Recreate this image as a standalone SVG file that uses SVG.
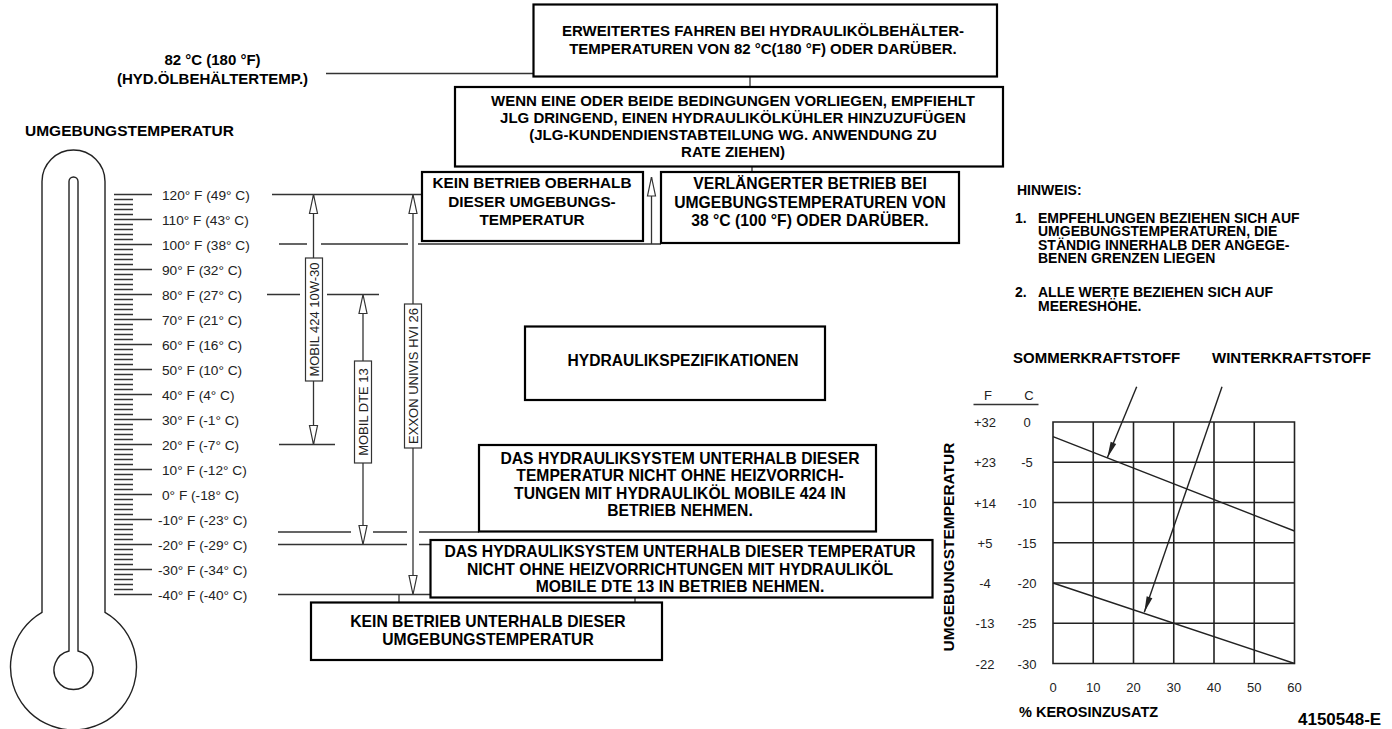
<svg xmlns="http://www.w3.org/2000/svg" width="1392" height="729" viewBox="0 0 1392 729">
<defs>
<style>
.b{fill:#fff;stroke:#000;stroke-width:2.2}
.lb{fill:#fff;stroke:#333;stroke-width:1.2}
.t{font-family:"Liberation Sans",Arial,sans-serif;font-weight:bold;font-size:15px;fill:#000;text-anchor:middle}
.t2{font-size:15.7px}
.tl{font-family:"Liberation Sans",Arial,sans-serif;font-weight:bold;font-size:15px;fill:#000}
.nt{font-size:14px}
.r{font-family:"Liberation Sans",Arial,sans-serif;font-size:13.7px;fill:#222}
.rv{font-family:"Liberation Sans",Arial,sans-serif;font-size:13px;fill:#222;text-anchor:middle}
.n{font-family:"Liberation Sans",Arial,sans-serif;font-size:13px;fill:#222;text-anchor:middle}
.ln{fill:none;stroke:#333;stroke-width:1.3}
.th{fill:none;stroke:#222;stroke-width:1.4}
.g{fill:none;stroke:#222;stroke-width:1.6}
</style>
<marker id="oa" markerUnits="userSpaceOnUse" markerWidth="24" markerHeight="12" viewBox="-21 -6 24 12" refX="0" refY="0" orient="auto-start-reverse"><path d="M0,0 L-19,-4 L-19,4 Z" fill="#fff" stroke="#333" stroke-width="1.2"/></marker>
<marker id="fa" markerUnits="userSpaceOnUse" markerWidth="18" markerHeight="8" viewBox="-17 -4 18 8" refX="0" refY="0" orient="auto"><path d="M0,0 L-16,-3 L-16,3 Z" fill="#222"/></marker>
</defs>
<rect width="1392" height="729" fill="#fff"/>

<g id="thermometer">
<path class="th" d="M42,612.4 L42,181.5 A31.5,31.5 0 0 1 105,181.5 L105,612.4 A63,63 0 1 1 42,612.4 Z"/>
<path class="th" d="M69,651 L69,181.5 A4.5,4.5 0 0 1 78,181.5 L78,651 A19.5,19.5 0 1 1 69,651 Z"/>
<text class="tl" x="25" y="136" style="font-size:15.5px">UMGEBUNGSTEMPERATUR</text>
</g>

<g id="scale">
<path class="ln" d="M114 194.5h38M114 219.5h38M114 244.5h38M114 269.5h38M114 294.5h38M114 319.5h38M114 344.5h38M114 369.5h38M114 394.5h38M114 419.5h38M114 444.5h38M114 469.5h38M114 494.5h38M114 519.5h38M114 544.5h38M114 569.5h38M114 594.5h38"/>
<path class="ln" d="M114 199.5h19M114 204.5h19M114 209.5h19M114 214.5h19M114 224.5h19M114 229.5h19M114 234.5h19M114 239.5h19M114 249.5h19M114 254.5h19M114 259.5h19M114 264.5h19M114 274.5h19M114 279.5h19M114 284.5h19M114 289.5h19M114 299.5h19M114 304.5h19M114 309.5h19M114 314.5h19M114 324.5h19M114 329.5h19M114 334.5h19M114 339.5h19M114 349.5h19M114 354.5h19M114 359.5h19M114 364.5h19M114 374.5h19M114 379.5h19M114 384.5h19M114 389.5h19M114 399.5h19M114 404.5h19M114 409.5h19M114 414.5h19M114 424.5h19M114 429.5h19M114 434.5h19M114 439.5h19M114 449.5h19M114 454.5h19M114 459.5h19M114 464.5h19M114 474.5h19M114 479.5h19M114 484.5h19M114 489.5h19M114 499.5h19M114 504.5h19M114 509.5h19M114 514.5h19M114 524.5h19M114 529.5h19M114 534.5h19M114 539.5h19M114 549.5h19M114 554.5h19M114 559.5h19M114 564.5h19M114 574.5h19M114 579.5h19M114 584.5h19M114 589.5h19"/>
<text class="r" x="162" y="199.5">120° F (49° C)</text>
<text class="r" x="162" y="224.5">110° F (43° C)</text>
<text class="r" x="162" y="249.5">100° F (38° C)</text>
<text class="r" x="162" y="274.5">90° F (32° C)</text>
<text class="r" x="162" y="299.5">80° F (27° C)</text>
<text class="r" x="162" y="324.5">70° F (21° C)</text>
<text class="r" x="162" y="349.5">60° F (16° C)</text>
<text class="r" x="162" y="374.5">50° F (10° C)</text>
<text class="r" x="162" y="399.5">40° F (4° C)</text>
<text class="r" x="162" y="424.5">30° F (-1° C)</text>
<text class="r" x="162" y="449.5">20° F (-7° C)</text>
<text class="r" x="162" y="474.5">10° F (-12° C)</text>
<text class="r" x="162" y="499.5">0° F (-18° C)</text>
<text class="r" x="158" y="524.5">-10° F (-23° C)</text>
<text class="r" x="158" y="549.5">-20° F (-29° C)</text>
<text class="r" x="158" y="574.5">-30° F (-34° C)</text>
<text class="r" x="158" y="599.5">-40° F (-40° C)</text>
</g>

<g id="connectors">
<path class="ln" d="M326 73.5H533.5M750 76.5V87M752 166.5V172M272 194.5H422M279 244H307M321 244H408M418 244H661M267 294.5H300M327 294.5H379M279 444.5H335M278 532H351M373 532H407M419 532H479M278 544.5H407M419 544.5H430.5M278 594.5H430.5M399 594.5V602M635 597.5V602"/>
<line class="ln" x1="651.5" y1="244" x2="651.5" y2="177" marker-end="url(#oa)"/>
<line class="ln" x1="313.5" y1="194.5" x2="313.5" y2="444.5" marker-start="url(#oa)" marker-end="url(#oa)"/>
<line class="ln" x1="363" y1="294.5" x2="363" y2="544.5" marker-start="url(#oa)" marker-end="url(#oa)"/>
<line class="ln" x1="413" y1="194.5" x2="413" y2="594.5" marker-start="url(#oa)" marker-end="url(#oa)"/>
</g>

<g id="label-mobil424">
<rect class="lb" x="305.5" y="258" width="17" height="123"/>
<text class="rv" x="314" y="319.5" dy="4.6" transform="rotate(-90 314 319.5)">MOBIL 424 10W-30</text>
</g>
<g id="label-mobildte13">
<rect class="lb" x="354.5" y="361" width="17" height="102"/>
<text class="rv" x="363" y="412" dy="4.6" transform="rotate(-90 363 412)">MOBIL DTE 13</text>
</g>
<g id="label-exxon">
<rect class="lb" x="404.5" y="304" width="17" height="144"/>
<text class="rv" x="413" y="376" dy="4.6" transform="rotate(-90 413 376)">EXXON UNIVIS HVI 26</text>
</g>

<g id="label-82c">
<text class="t" x="212.5" y="65">82 °C (180 °F)</text>
<text class="t" x="212.5" y="84">(HYD.ÖLBEHÄLTERTEMP.)</text>
</g>

<g id="box-erweitert">
<rect class="b" x="533.5" y="4.5" width="463.5" height="72"/>
<text class="t" x="763" y="35.5">ERWEITERTES FAHREN BEI HYDRAULIKÖLBEHÄLTER-</text>
<text class="t" x="763" y="53.5">TEMPERATUREN VON 82 °C(180 °F) ODER DARÜBER.</text>
</g>

<g id="box-wenn">
<rect class="b" x="455" y="87" width="548" height="79.5"/>
<text class="t" x="733" y="106">WENN EINE ODER BEIDE BEDINGUNGEN VORLIEGEN, EMPFIEHLT</text>
<text class="t" x="733" y="123">JLG DRINGEND, EINEN HYDRAULIKÖLKÜHLER HINZUZUFÜGEN</text>
<text class="t" x="733" y="140">(JLG-KUNDENDIENSTABTEILUNG WG. ANWENDUNG ZU</text>
<text class="t" x="733" y="157">RATE ZIEHEN)</text>
</g>

<g id="box-kein-oberhalb">
<rect class="b" x="422" y="172" width="221" height="69"/>
<text class="t" x="532" y="188" style="font-size:15.3px">KEIN BETRIEB OBERHALB</text>
<text class="t" x="532" y="206.5" style="font-size:15.3px">DIESER UMGEBUNGS-</text>
<text class="t" x="532" y="225" style="font-size:15.3px">TEMPERATUR</text>
</g>

<g id="box-verlaengert">
<rect class="b" x="661" y="172" width="298" height="71"/>
<text class="t t2" x="810" y="189">VERLÄNGERTER BETRIEB BEI</text>
<text class="t t2" x="810" y="207.5">UMGEBUNGSTEMPERATUREN VON</text>
<text class="t t2" x="810" y="226">38 °C (100 °F) ODER DARÜBER.</text>
</g>

<g id="box-spezifikationen">
<rect class="b" x="525" y="326.5" width="300" height="73.5"/>
<text class="t" x="683" y="366" style="font-size:15.6px">HYDRAULIKSPEZIFIKATIONEN</text>
</g>

<g id="box-mobile424">
<rect class="b" x="479" y="445" width="397" height="86.5"/>
<text class="t t2" x="680" y="463.5">DAS HYDRAULIKSYSTEM UNTERHALB DIESER</text>
<text class="t t2" x="680" y="481">TEMPERATUR NICHT OHNE HEIZVORRICH-</text>
<text class="t t2" x="680" y="498.5">TUNGEN MIT HYDRAULIKÖL MOBILE 424 IN</text>
<text class="t t2" x="680" y="516">BETRIEB NEHMEN.</text>
</g>

<g id="box-dte13">
<rect class="b" x="430.5" y="540" width="502" height="57.5"/>
<text class="t t2" x="680" y="557">DAS HYDRAULIKSYSTEM UNTERHALB DIESER TEMPERATUR</text>
<text class="t t2" x="680" y="574.5">NICHT OHNE HEIZVORRICHTUNGEN MIT HYDRAULIKÖL</text>
<text class="t t2" x="680" y="592">MOBILE DTE 13 IN BETRIEB NEHMEN.</text>
</g>

<g id="box-kein-unterhalb">
<rect class="b" x="311" y="602.5" width="351" height="57.5"/>
<text class="t t2" x="488" y="627">KEIN BETRIEB UNTERHALB DIESER</text>
<text class="t t2" x="488" y="644.5">UMGEBUNGSTEMPERATUR</text>
</g>

<g id="notes">
<text class="tl nt" x="1017" y="195">HINWEIS:</text>
<text class="tl nt" x="1015" y="222.5">1.</text>
<text class="tl nt" x="1038" y="222.5">EMPFEHLUNGEN BEZIEHEN SICH AUF</text>
<text class="tl nt" x="1038" y="236">UMGEBUNGSTEMPERATUREN, DIE</text>
<text class="tl nt" x="1038" y="249.5">STÄNDIG INNERHALB DER ANGEGE-</text>
<text class="tl nt" x="1038" y="263">BENEN GRENZEN LIEGEN</text>
<text class="tl nt" x="1015" y="297">2.</text>
<text class="tl nt" x="1038" y="297">ALLE WERTE BEZIEHEN SICH AUF</text>
<text class="tl nt" x="1038" y="310.5">MEERESHÖHE.</text>
</g>

<g id="chart">
<text class="tl" x="1013" y="363">SOMMERKRAFTSTOFF</text>
<text class="tl" x="1212" y="363">WINTERKRAFTSTOFF</text>
<path class="g" d="M1053 422H1294.5V663.5H1053Z M1093.25 422V663.5M1133.5 422V663.5M1173.75 422V663.5M1214 422V663.5M1254.25 422V663.5M1053 462.25H1294.5M1053 502.5H1294.5M1053 542.75H1294.5M1053 583H1294.5M1053 623.25H1294.5"/>
<path class="th" d="M1053 436.7L1294.5 531M1053 583L1294.5 663.5"/>
<line class="th" x1="1136.7" y1="386.7" x2="1107.3" y2="457.7" marker-end="url(#fa)"/>
<line class="th" x1="1222" y1="386.7" x2="1144.3" y2="612.3" marker-end="url(#fa)"/>
<text class="n" x="988" y="400">F</text>
<text class="n" x="1029" y="400">C</text>
<path class="ln" d="M973.5 404.5H1038.5"/>
<text class="n" x="985" y="427">+32</text>
<text class="n" x="985" y="467">+23</text>
<text class="n" x="985" y="507.5">+14</text>
<text class="n" x="985" y="547.5">+5</text>
<text class="n" x="985" y="588">-4</text>
<text class="n" x="985" y="628">-13</text>
<text class="n" x="985" y="668.5">-22</text>
<text class="n" x="1027" y="427">0</text>
<text class="n" x="1027" y="467">-5</text>
<text class="n" x="1027" y="507.5">-10</text>
<text class="n" x="1027" y="547.5">-15</text>
<text class="n" x="1027" y="588">-20</text>
<text class="n" x="1027" y="628">-25</text>
<text class="n" x="1027" y="668.5">-30</text>
<text class="n" x="1053" y="692">0</text>
<text class="n" x="1093.25" y="692">10</text>
<text class="n" x="1133.5" y="692">20</text>
<text class="n" x="1173.75" y="692">30</text>
<text class="n" x="1214" y="692">40</text>
<text class="n" x="1254.25" y="692">50</text>
<text class="n" x="1294.5" y="692">60</text>
<text class="t" x="948" y="547" dy="5.5" transform="rotate(-90 948 547)" style="font-size:15.5px">UMGEBUNGSTEMPERATUR</text>
<text class="tl" x="1019" y="717" style="font-size:14.5px">% KEROSINZUSATZ</text>
<text class="tl" x="1298" y="725" style="font-size:17px">4150548-E</text>
</g>
</svg>
